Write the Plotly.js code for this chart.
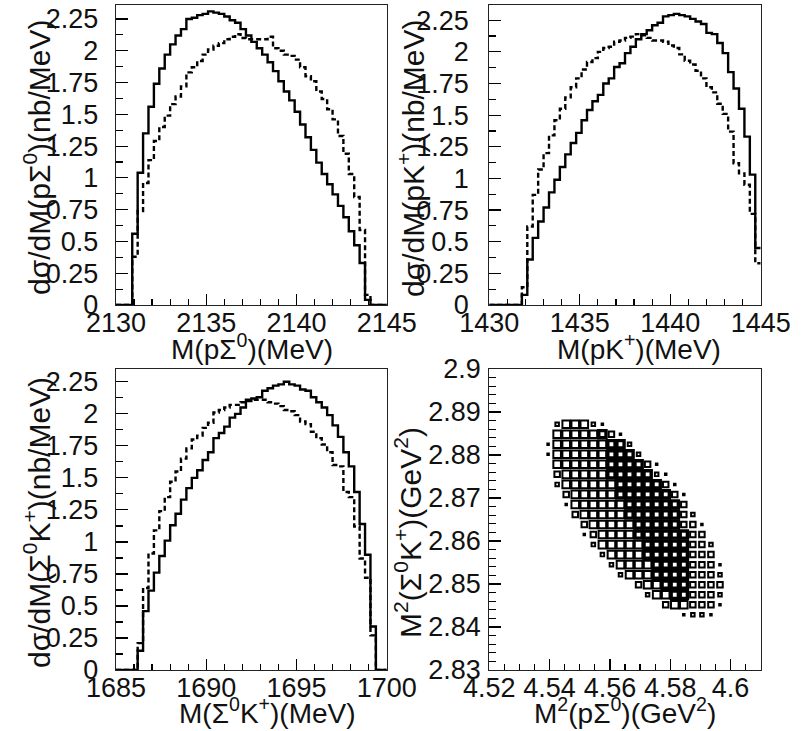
<!DOCTYPE html>
<html><head><meta charset="utf-8">
<script src="https://cdn.plot.ly/plotly-3.0.1.min.js"></script>
<style>html,body{margin:0;padding:0;background:#fff}#chart{width:803px;height:731px}</style>
</head><body><div id="chart"></div>
<script>
// ---------- histogram definitions (50 bins of 0.3 MeV) ----------
const binsPS = {start: 2130, width: 0.3};
const binsPK = {start: 1430, width: 0.3};
const binsSK = {start: 1685, width: 0.3};

const pSigmaSolid = [0,0,0,0.56,1.04,1.35,1.56,1.74,1.86,1.97,
  2.05,2.12,2.17,2.25,2.26,2.28,2.29,2.31,2.30,2.29,
  2.27,2.24,2.22,2.17,2.12,2.07,2.02,1.97,1.91,1.84,
  1.76,1.68,1.61,1.52,1.42,1.32,1.22,1.12,1.03,0.95,
  0.87,0.78,0.69,0.58,0.47,0.33,0.04,0,0,0];
const pSigmaDashed = [0,0,0,0.38,0.74,0.96,1.14,1.29,1.40,1.49,
  1.58,1.64,1.72,1.83,1.87,1.92,1.97,2.01,2.04,2.06,
  2.09,2.11,2.13,2.10,2.09,2.09,2.09,2.09,2.11,2.02,
  2.00,1.97,1.96,1.93,1.87,1.80,1.76,1.68,1.62,1.54,
  1.46,1.33,1.19,1.03,0.85,0.59,0.08,0,0,0];

const pKSolid = [0,0,0,0,0,0,0.08,0.36,0.53,0.66,
  0.77,0.89,0.99,1.09,1.19,1.28,1.36,1.46,1.54,1.61,
  1.66,1.75,1.79,1.88,1.91,1.99,2.04,2.10,2.14,2.17,
  2.21,2.23,2.28,2.29,2.30,2.29,2.28,2.26,2.24,2.22,
  2.15,2.14,2.07,1.99,1.84,1.71,1.55,1.33,1.03,0.45];
const pKDashed = [0,0,0,0,0,0,0.14,0.62,0.87,1.07,
  1.20,1.34,1.46,1.55,1.64,1.72,1.79,1.86,1.92,1.95,
  2.00,2.03,2.04,2.08,2.09,2.11,2.12,2.14,2.13,2.11,
  2.09,2.09,2.08,2.05,2.03,1.98,1.93,1.90,1.85,1.79,
  1.72,1.68,1.59,1.51,1.37,1.12,1.04,0.95,0.72,0.33];

const sigmaKSolid = [0,0,0,0,0.15,0.46,0.62,0.76,0.89,1.01,
  1.13,1.22,1.33,1.42,1.50,1.56,1.64,1.70,1.81,1.85,
  1.90,1.97,2.00,2.05,2.10,2.12,2.13,2.18,2.20,2.22,
  2.23,2.25,2.23,2.22,2.19,2.18,2.13,2.09,2.05,1.99,
  1.91,1.82,1.70,1.59,1.39,1.14,0.90,0.34,0,0];
const sigmaKDashed = [0,0,0,0,0.21,0.64,0.91,1.09,1.24,1.35,
  1.47,1.55,1.65,1.73,1.80,1.83,1.89,1.93,2.01,2.03,
  2.05,2.07,2.07,2.09,2.11,2.11,2.11,2.11,2.09,2.08,
  2.06,2.03,2.02,1.99,1.94,1.92,1.86,1.81,1.76,1.70,
  1.60,1.59,1.39,1.35,1.12,0.87,0.72,0.27,0,0];

// ---------- Dalitz box histogram (30 x 30 bins) ----------
const dalitzX = {start: 4.52, width: 0.003};
const dalitzY = {start: 2.83, width: 0.07/30};
// row index (y bin), first x bin, and box level per bin (1 tiny ... 5 dense)
const boxRow   = [24,23,22,21,20,19,18,17,16,15,14,13,12,11,10,9,8,7,6,5];
const boxStart = [7,7,6,6,7,7,7,8,8,9,10,10,11,12,13,14,16,17,19,21];
const boxLevels = ["244421","44444531","1444444552","14444445552","444444555531",
  "3444445555521","24444445555531","34444455555531","14444445555553","34444455555532",
  "34444455555331","13444455555533","24444455555332","2444455555333","2444455553331",
  "244455553332","3445553333","244553332","3443331","1221"];

// ---------- tick labels ----------
const yTickVals = [0,0.25,0.5,0.75,1,1.25,1.5,1.75,2,2.25];
const yTickText = ["0","0.25","0.5","0.75","1","1.25","1.5","1.75","2","2.25"];
const psTicks = [2130,2135,2140,2145];
const pkTicks = [1430,1435,1440,1445];
const skTicks = [1685,1690,1695,1700];
const dxTicks = [4.52,4.54,4.56,4.58,4.6];
const dxText = ["4.52","4.54","4.56","4.58","4.6"];
const dyTicks = [2.83,2.84,2.85,2.86,2.87,2.88,2.89,2.9];
const dyText = ["2.83","2.84","2.85","2.86","2.87","2.88","2.89","2.9"];

// ---------- build ----------
function stepTrace(bins, vals, xa, ya, dash){
  const x=[], y=[];
  vals.forEach((v,k)=>{x.push(bins.start + k*bins.width); y.push(v);});
  x.push(bins.start + vals.length*bins.width); y.push(vals[vals.length-1]);
  return {type:'scatter', mode:'lines', x:x, y:y, xaxis:xa, yaxis:ya,
    line:{shape:'hv', color:'#000', width:2.4, dash:dash}, hoverinfo:'skip'};
}
const SOLID='solid', DASH='5px,3px';
const traces = [
  stepTrace(binsPS, pSigmaDashed,'x','y',DASH), stepTrace(binsPS, pSigmaSolid,'x','y',SOLID),
  stepTrace(binsPK, pKDashed,'x2','y2',DASH), stepTrace(binsPK, pKSolid,'x2','y2',SOLID),
  stepTrace(binsSK, sigmaKDashed,'x3','y3',DASH), stepTrace(binsSK, sigmaKSolid,'x3','y3',SOLID)
];
// box look per level: outer black square, inner white hole (px)
const levelOuter = [0,3.5,5.5,7.5,9.6,10.6];
const levelHole  = [0,0,1.6,3.5,5.6,3.8];
const bx=[], by=[], bo=[], hx=[], hy=[], hs=[];
boxRow.forEach((i,r)=>{
  const s = boxLevels[r];
  for(let c=0;c<s.length;c++){
    const lv = +s[c]; if(!lv) continue;
    const j = boxStart[r]+c;
    const xc = dalitzX.start + (j+0.5)*dalitzX.width;
    const yc = dalitzY.start + (i+0.5)*dalitzY.width;
    bx.push(xc); by.push(yc); bo.push(levelOuter[lv]);
    if(levelHole[lv]>0){ hx.push(xc); hy.push(yc); hs.push(levelHole[lv]); }
  }
});
traces.push({type:'scatter', mode:'markers', x:bx, y:by, xaxis:'x4', yaxis:'y4',
  marker:{symbol:'square', color:'#000', size:bo, opacity:1, line:{width:0}}, hoverinfo:'skip'});
traces.push({type:'scatter', mode:'markers', x:hx, y:hy, xaxis:'x4', yaxis:'y4',
  marker:{symbol:'square', color:'#fff', size:hs, opacity:1, line:{width:0}}, hoverinfo:'skip'});

const W=803, H=731, FONT='Liberation Sans, Arial, Helvetica, sans-serif';
const px = (a,b)=>[a/W, b/W];
const py = (top,bot)=>[1-bot/H, 1-top/H];
function ax(domain, range, vals, text, minorDt, minorT0, isY, standoff){
  return {domain:domain, range:range, showgrid:false, zeroline:false,
    showline:true, mirror:true, linecolor:'#222', linewidth:1.2,
    ticks:'inside', ticklen:isY?12:11, tickwidth:1.2, tickcolor:'#000',
    tickmode:'array', tickvals:vals, ticktext:text,
    minor:{ticks:'inside', ticklen:isY?7:6, tickwidth:1.2, tickcolor:'#000', dtick:minorDt, tick0:minorT0, showgrid:false},
    tickfont:{family:FONT, size:27, color:'#111'}, ticklabelstandoff:standoff,
    fixedrange:true};
}
const xl=[116,386.7], xr=[489.3,760.7];
const layout = {
  width:W, height:H, margin:{l:0,r:0,t:0,b:0}, showlegend:false,
  paper_bgcolor:'#fff', plot_bgcolor:'#fff', hovermode:false,
  xaxis:  Object.assign(ax(px(...xl), [2130,2145], psTicks, psTicks.map(String), 1, 2130, false, -7), {anchor:'y'}),
  yaxis:  Object.assign(ax(py(5,305), [0,2.36], yTickVals, yTickText, 0.125, 0, true, 11), {anchor:'x'}),
  xaxis2: Object.assign(ax(px(...xr), [1430,1445], pkTicks, pkTicks.map(String), 1, 1430, false, -7), {anchor:'y2'}),
  yaxis2: Object.assign(ax(py(5,305), [0,2.37], yTickVals, yTickText, 0.125, 0, true, 14), {anchor:'x2'}),
  xaxis3: Object.assign(ax(px(...xl), [1685,1700], skTicks, skTicks.map(String), 1, 1685, false, -7), {anchor:'y3'}),
  yaxis3: Object.assign(ax(py(369,670), [0,2.35], yTickVals, yTickText, 0.125, 0, true, 11), {anchor:'x3'}),
  xaxis4: Object.assign(ax(px(...xr), [4.52,4.61], dxTicks, dxText, 0.005, 4.52, false, -7), {anchor:'y4'}),
  yaxis4: Object.assign(ax(py(369,670), [2.83,2.90], dyTicks, dyText, 0.002, 2.83, true, 2), {anchor:'x4'}),
  annotations: []
};
function title(text, x, y, rot, size){
  layout.annotations.push({text:text, x:x/W, y:1-y/H, xref:'paper', yref:'paper',
    showarrow:false, textangle:rot, xanchor:'center', yanchor:'middle',
    font:{family:FONT, size:size, color:'#111'}});
}
title('M(pΣ<sup>0</sup>)(MeV)', 252, 347, 0, 28);
title('M(pK<sup>+</sup>)(MeV)', 639, 347, 0, 28);
title('M(Σ<sup>0</sup>K<sup>+</sup>)(MeV)', 267, 711, 0, 28);
title('M<sup>2</sup>(pΣ<sup>0</sup>)(GeV<sup>2</sup>)', 625, 711, 0, 28);
title('dσ/dM(pΣ<sup>0</sup>)(nb/MeV)', 37, 158, -90, 30);
title('dσ/dM(pK<sup>+</sup>)(nb/MeV)', 411, 158, -90, 30);
title('dσ/dM(Σ<sup>0</sup>K<sup>+</sup>)(nb/MeV)', 37, 523, -90, 30);
title('M<sup>2</sup>(Σ<sup>0</sup>K<sup>+</sup>)(GeV<sup>2</sup>)', 408, 533, -90, 30);

Plotly.newPlot('chart', traces, layout, {staticPlot:true, displayModeBar:false});
</script></body></html>
